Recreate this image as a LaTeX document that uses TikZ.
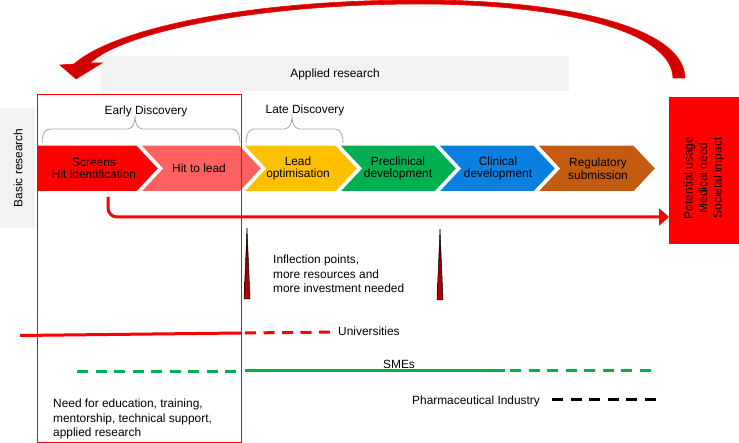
\documentclass[tikz,border=0pt]{standalone}
\usepackage{fontspec}
\setmainfont{Liberation Sans}
\usetikzlibrary{arrows.meta}
\definecolor{cred}{HTML}{FF0000}
\definecolor{cpink}{HTML}{FF6060}
\definecolor{cyellow}{HTML}{FFC000}
\definecolor{cgreen}{HTML}{00B050}
\definecolor{cblue}{HTML}{0A80E0}
\definecolor{cbrown}{HTML}{C55A11}
\definecolor{cband}{HTML}{F2F2F2}
\definecolor{cdark}{HTML}{D00000}
\definecolor{cspike}{HTML}{C00000}
\definecolor{cbrace}{HTML}{A6A6A6}
\tikzset{
  every node/.style={font=\fontsize{11.9}{14.5}\selectfont, inner sep=0pt, text=black},
  chev/.style={draw=white, line width=1.5pt},
  chevtext/.style={align=center, font=\fontsize{11.9}{12.8}\selectfont},
  bracestyle/.style={draw=cbrace, line width=0.8pt},
  dashline/.style={line width=3pt, dash pattern=on 11pt off 7.5pt},
  solidline/.style={line width=3pt},
  spike/.style={top color=black, bottom color=cspike, middle color=cspike!80!black, draw=black, line width=0.5pt},
}
\begin{document}
\begin{tikzpicture}[x=1pt,y=-1pt]
\useasboundingbox (0,0) rectangle (739,443);
% bands
\fill[cband] (101,56) rectangle (569,91);
\node (applied) at (335,74) {Applied research};
\fill[cband] (0,108) rectangle (35,228);
\node[rotate=90] (basic) at (18,168) {Basic research};
% top curved arrow
\filldraw[fill=cdark, draw=cred, line width=0.6pt]
  (685,78) .. controls (684,28) and (570,0) .. (420,0)
  .. controls (250,0) and (115,28) .. (74,64)
  -- (60,65) -- (76,79) -- (102,63) -- (90,63)
  .. controls (125,31) and (260,4) .. (420,4)
  .. controls (565,4) and (672,32) .. (673,78) -- cycle;
% braces
\draw[bracestyle] (42,143) to[out=90,in=180] (50,129) -- (127,129) to[out=0,in=-90] (135,117)
  to[out=-90,in=180] (143,129) -- (232,129) to[out=0,in=90] (240,143);
\node (early) at (146,111) {Early Discovery};
\draw[bracestyle] (246,143) to[out=90,in=180] (254,129) -- (284,129) to[out=0,in=-90] (292,117)
  to[out=-90,in=180] (300,129) -- (335,129) to[out=0,in=90] (343,143);
\node (late) at (305,110) {Late Discovery};
% chevrons
\filldraw[chev, fill=cred] (37,145) -- (137,145) -- (159,168.5) -- (137,192) -- (37,192) -- cycle;
\filldraw[chev, fill=cpink] (140,145) -- (240,145) -- (262,168.5) -- (240,192) -- (140,192) -- (162,168.5) -- cycle;
\filldraw[chev, fill=cyellow] (243,145) -- (336,145) -- (358,168.5) -- (336,192) -- (243,192) -- (265,168.5) -- cycle;
\filldraw[chev, fill=cgreen] (339,145) -- (435,145) -- (457,168.5) -- (435,192) -- (339,192) -- (361,168.5) -- cycle;
\filldraw[chev, fill=cblue] (438,145) -- (534,145) -- (556,168.5) -- (534,192) -- (438,192) -- (460,168.5) -- cycle;
\filldraw[chev, fill=cbrown] (537,145) -- (634,145) -- (656,168.5) -- (634,192) -- (537,192) -- (559,168.5) -- cycle;
\node[chevtext] (screens) at (94,168.5) {Screens\\Hit identification};
\node[chevtext] (hit) at (199,168.5) {Hit to lead};
\node[chevtext] (leadopt) at (298,168.5) {Lead\\optimisation};
\node[chevtext] (preclin) at (398,168.5) {Preclinical\\development};
\node[chevtext] (clin) at (498,168.5) {Clinical\\development};
\node[chevtext] (reg) at (598,168.5) {Regulatory\\submission};
% impact box
\fill[cred] (669,97) rectangle (739,244);
\node[rotate=90, align=center] (impact) at (704,178) {Potential usage\\Medical need\\Societal impact};
\coordinate (boxleft) at (669,217);
\coordinate (arrstart) at (108,197);
\draw[cred, line width=3pt, rounded corners=9pt, -{Triangle[length=10pt,width=17pt]}]
  (arrstart) |- (boxleft);
% spikes
\shadedraw[spike] (244,299) -- (247,228) -- (250,299) -- cycle;
\shadedraw[spike] (437,300) -- (440,229) -- (443,300) -- cycle;
\node[align=left, anchor=west] (inflect) at (273,274) {Inflection points,\\more resources and\\more investment needed};
% early discovery frame
\draw[cred, line width=1pt] (37,95) rectangle (241,442);
% actor lines
\draw[cred, solidline] (20,335.5) -- (241,333);
\draw[cred, dashline] (245,333) -- (333,332);
\node[anchor=west] (univ) at (338,331) {Universities};
\draw[cgreen, dashline] (77,372) -- (241,372);
\draw[cgreen, solidline] (245,371) -- (505,371);
\draw[cgreen, dashline] (510,371) -- (652,371);
\node[anchor=west] (sme) at (383,364) {SMEs};
\node[anchor=west] (pharma) at (412,401) {Pharmaceutical Industry};
\draw[black, dashline] (552,400) -- (657,400);
\node[align=left, anchor=west] (need) at (53,419) {Need for education, training,\\mentorship, technical support,\\applied research};
\end{tikzpicture}
\end{document}
